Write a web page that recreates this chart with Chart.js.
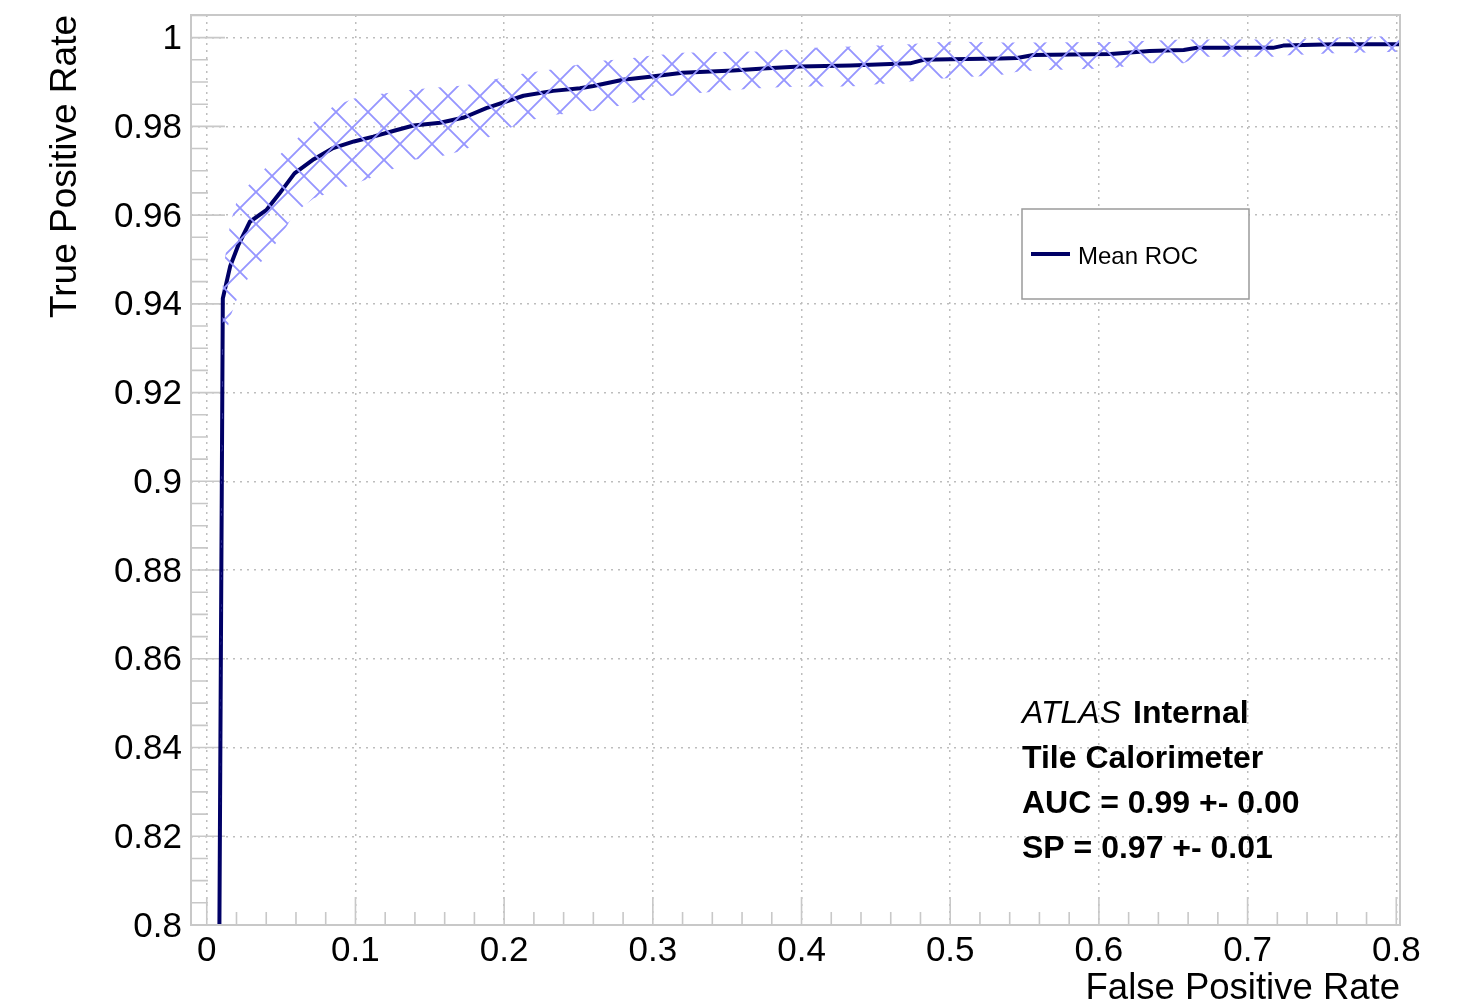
<!DOCTYPE html>
<html>
<head>
<meta charset="utf-8">
<title>Mean ROC</title>
<script src="https://cdn.jsdelivr.net/npm/chart.js@4.4.1/dist/chart.umd.min.js"></script>
<style>
  html, body { margin: 0; padding: 0; background: #fff; }
  #wrap { position: relative; width: 1470px; height: 1007px; }
</style>
</head>
<body>
<div id="wrap"><canvas id="rocChart"></canvas></div>
<script>
// values
const fprPoints = [0.0085, 0.0108, 0.0157, 0.0213, 0.029, 0.040, 0.049, 0.059, 0.072, 0.085,
  0.099, 0.112, 0.126, 0.139, 0.157, 0.173, 0.188, 0.213, 0.233, 0.251,
  0.260, 0.280, 0.298, 0.320, 0.354, 0.377, 0.399, 0.433, 0.473, 0.482,
  0.500, 0.534, 0.545, 0.556, 0.608, 0.634, 0.657, 0.666, 0.717, 0.724,
  0.758, 0.8025];
const tprMean = [0.800, 0.9412, 0.9484, 0.9533, 0.9585, 0.9611, 0.9649, 0.9694, 0.9726, 0.9751,
  0.9766, 0.9777, 0.9790, 0.9802, 0.9808, 0.9820, 0.9841, 0.9869, 0.9880, 0.9886,
  0.9891, 0.9905, 0.9912, 0.9921, 0.9926, 0.9931, 0.9935, 0.9937, 0.9942, 0.9950,
  0.9951, 0.9953, 0.9954, 0.9961, 0.9963, 0.9970, 0.9972, 0.9977, 0.9977, 0.9982,
  0.9985, 0.9985];
const tprUpper = [0.800, 0.947, 0.958, 0.9645, 0.967, 0.9708, 0.9736, 0.9766, 0.981, 0.9845,
  0.9863, 0.9871, 0.9877, 0.9883, 0.9888, 0.9892, 0.9902, 0.9919, 0.9929, 0.9940,
  0.9947, 0.9951, 0.9959, 0.9966, 0.9968, 0.9969, 0.9976, 0.9980, 0.9985, 0.9988,
  0.9991, 0.9989, 0.9989, 0.9989, 0.9990, 0.9993, 0.9996, 0.9996, 0.9996, 0.9996,
  1.0000, 1.0004];
const tprLower = [0.800, 0.930, 0.937, 0.942, 0.9465, 0.9508, 0.9548, 0.9605, 0.9638, 0.9653,
  0.9670, 0.9686, 0.9705, 0.9725, 0.9732, 0.9746, 0.9773, 0.9810, 0.9826, 0.9830,
  0.9835, 0.9848, 0.9862, 0.9872, 0.9882, 0.9887, 0.9890, 0.9890, 0.9901, 0.9905,
  0.9909, 0.9916, 0.9923, 0.9926, 0.9931, 0.9942, 0.9942, 0.9957, 0.9957, 0.9960,
  0.9965, 0.9968];

const xTickValues = [0, 0.1, 0.2, 0.3, 0.4, 0.5, 0.6, 0.7, 0.8];
const xTickLabels = ['0', '0.1', '0.2', '0.3', '0.4', '0.5', '0.6', '0.7', '0.8'];
const yTickValues = [0.8, 0.82, 0.84, 0.86, 0.88, 0.9, 0.92, 0.94, 0.96, 0.98, 1];
const yTickLabels = ['0.8', '0.82', '0.84', '0.86', '0.88', '0.9', '0.92', '0.94', '0.96', '0.98', '1'];

const infoLines = ['Tile Calorimeter', 'AUC = 0.99 +- 0.00', 'SP = 0.97 +- 0.01'];

const FONT = '"Liberation Sans", Arial, Helvetica, sans-serif';
const navy = '#000066';
const hatchColor = 'rgb(150,150,255)';
const frameGray = '#c8c8c8';

function toPoints(ys) {
  return fprPoints.map((x, i) => ({ x: x, y: ys[i] }));
}

// cross hatch like the ROOT fill style
function makeHatch() {
  const c = document.createElement('canvas');
  c.width = 32;
  c.height = 32;
  const g = c.getContext('2d');
  g.strokeStyle = hatchColor;
  g.lineWidth = 1.9;
  g.beginPath();
  for (const off of [-32, 0, 32]) {
    g.moveTo(off - 8, -8); g.lineTo(off + 40, 40);
    g.moveTo(off - 8, 40); g.lineTo(off + 40, -8);
  }
  g.stroke();
  return g.createPattern(c, 'repeat');
}

// no extra room for labels sticking out of the axes
function noScalePadding(s) {
  s.paddingTop = 0;
  s.paddingBottom = 0;
  s.paddingLeft = 0;
  s.paddingRight = 0;
}

const axisFrame = {
  id: 'axisFrame',
  beforeDatasetsDraw(chart) {
    const { ctx, chartArea: a, scales: { x, y } } = chart;
    ctx.save();
    ctx.strokeStyle = frameGray;
    ctx.lineWidth = 1.6;
    ctx.beginPath();
    // y ticks inside, 4 divisions per major
    for (let i = 0; i <= 41; i++) {
      const py = y.getPixelForValue(0.8 + i * 0.005);
      if (py < a.top) break;
      const len = i % 4 === 0 ? 34 : 17;
      ctx.moveTo(a.left, py);
      ctx.lineTo(a.left + len, py);
    }
    // x ticks inside, 5 divisions per major
    for (let i = 0; i <= 40; i++) {
      const px = x.getPixelForValue(i * 0.02);
      const len = i % 5 === 0 ? 28 : 13;
      ctx.moveTo(px, a.bottom);
      ctx.lineTo(px, a.bottom - len);
    }
    ctx.stroke();
    ctx.restore();
  },
  afterDraw(chart) {
    const { ctx, chartArea: a } = chart;
    ctx.save();
    ctx.strokeStyle = frameGray;
    ctx.lineWidth = 2;
    ctx.strokeRect(a.left, a.top, a.right - a.left, a.bottom - a.top);

    // legend box
    ctx.fillStyle = '#fff';
    ctx.fillRect(1022, 209, 227, 90);
    ctx.strokeStyle = '#9a9a9a';
    ctx.lineWidth = 1.5;
    ctx.strokeRect(1022, 209, 227, 90);
    ctx.strokeStyle = navy;
    ctx.lineWidth = 4;
    ctx.beginPath();
    ctx.moveTo(1031, 254);
    ctx.lineTo(1070, 254);
    ctx.stroke();
    ctx.fillStyle = '#000';
    ctx.textBaseline = 'alphabetic';
    ctx.textAlign = 'left';
    ctx.font = '24px ' + FONT;
    ctx.fillText('Mean ROC', 1078, 264);

    // ATLAS label
    ctx.font = 'italic 32px ' + FONT;
    ctx.fillText('ATLAS', 1022, 723);
    const w = ctx.measureText('ATLAS').width;
    ctx.font = 'bold 32px ' + FONT;
    ctx.fillText('Internal', 1022 + w + 12, 723);
    infoLines.forEach((t, i) => {
      ctx.fillText(t, 1022, 768 + i * 45);
    });
    ctx.restore();
  }
};

const ctx = document.getElementById('rocChart');
new Chart(ctx, {
  type: 'line',
  data: {
    datasets: [
      {
        label: 'upper',
        data: toPoints(tprUpper),
        borderWidth: 0,
        borderColor: 'rgba(0,0,0,0)',
        backgroundColor: makeHatch(),
        pointRadius: 0,
        fill: '+1',
        tension: 0,
      },
      {
        label: 'lower',
        data: toPoints(tprLower),
        borderWidth: 0,
        borderColor: 'rgba(0,0,0,0)',
        pointRadius: 0,
        fill: false,
        tension: 0,
      },
      {
        label: 'Mean ROC',
        data: toPoints(tprMean),
        borderColor: navy,
        borderWidth: 4,
        pointRadius: 0,
        fill: false,
        tension: 0,
        borderJoinStyle: 'round',
      },
    ],
  },
  options: {
    responsive: true,
    maintainAspectRatio: false,
    animation: false,
    layout: { padding: { left: 0, top: 15, right: 70, bottom: 0 } },
    plugins: {
      legend: { display: false },
      tooltip: { enabled: false },
    },
    scales: {
      x: {
        type: 'linear',
        min: -0.0106,
        max: 0.8025,
        afterBuildTicks: (s) => { s.ticks = xTickValues.map((v) => ({ value: v })); },
        afterFit: (s) => { s.height = 82; noScalePadding(s); },
        ticks: {
          padding: 5,
          color: '#000',
          font: { family: FONT, size: 35 },
          maxRotation: 0,
          autoSkip: false,
          callback: (v, i) => xTickLabels[i],
        },
        grid: { color: '#bdbdbd', lineWidth: 1.5, drawTicks: false },
        border: { display: false, dash: [2, 5] },
        title: {
          display: true,
          text: 'False Positive Rate',
          align: 'end',
          color: '#000',
          font: { family: FONT, size: 36.5, lineHeight: 1 },
          padding: { top: 0, bottom: 0 },
        },
      },
      y: {
        type: 'linear',
        min: 0.8,
        max: 1.0051,
        afterBuildTicks: (s) => { s.ticks = yTickValues.map((v) => ({ value: v })); },
        afterFit: (s) => { s.width = 191; noScalePadding(s); },
        ticks: {
          padding: 9,
          labelOffset: 2,
          color: '#000',
          font: { family: FONT, size: 35 },
          autoSkip: false,
          callback: (v, i) => yTickLabels[i],
        },
        grid: { color: '#bdbdbd', lineWidth: 1.5, drawTicks: false },
        border: { display: false, dash: [2, 5] },
        title: {
          display: true,
          text: 'True Positive Rate',
          align: 'end',
          color: '#000',
          font: { family: FONT, size: 37, lineHeight: 1.2 },
          padding: { top: 44, bottom: 0 },
        },
      },
    },
  },
  plugins: [axisFrame],
});
</script>
</body>
</html>
